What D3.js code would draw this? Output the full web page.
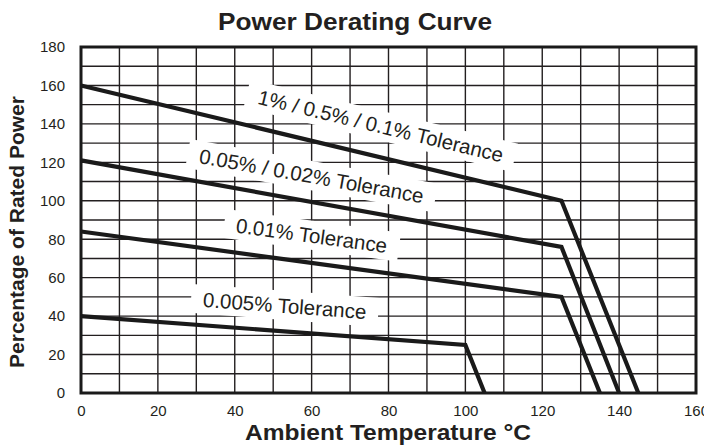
<!DOCTYPE html>
<html>
<head>
<meta charset="utf-8">
<script src="https://cdn.jsdelivr.net/npm/d3@7"></script>
<style>
  body { margin: 0; background: #fff; }
  text { font-family: "Liberation Sans", Arial, Helvetica, sans-serif; fill: #231f20; }
</style>
</head>
<body>
<svg id="chart" width="704" height="445"></svg>
<script>
// Curve data (temperature °C, % of rated power)
const temps1 = [0, 125, 145];
const power1 = [160, 100, 0];
const temps2 = [0, 125, 140];
const power2 = [121, 76, 0];
const temps3 = [0, 125, 135];
const power3 = [84, 50, 0];
const temps4 = [0, 100, 105];
const power4 = [40, 25, 0];

const seriesNames = [
    '1% / 0.5% / 0.1% Tolerance',
    '0.05% / 0.02% Tolerance',
    '0.01% Tolerance',
    '0.005% Tolerance'
];
// where each curve label sits, in data units
const labelTemps = [78, 60, 60, 53];
const labelPowers = [139, 113, 82, 45.5];

const xTicks = [0, 20, 40, 60, 80, 100, 120, 140, 160];
const yTicks = [0, 20, 40, 60, 80, 100, 120, 140, 160, 180];

const series = [
    { t: temps1, p: power1 },
    { t: temps2, p: power2 },
    { t: temps3, p: power3 },
    { t: temps4, p: power4 }
];

// Dimensions and margins
const margin = { top: 47, right: 8, bottom: 52, left: 81 };
const width = 704 - margin.left - margin.right;
const height = 445 - margin.top - margin.bottom;

const svg = d3.select('#chart');
const g = svg.append('g')
    .attr('transform', `translate(${margin.left},${margin.top})`);

const x = d3.scaleLinear().domain([0, 160]).range([0, width]);
const y = d3.scaleLinear().domain([0, 180]).range([height, 0]);

// Grid every 10 units
g.append('g')
    .selectAll('line')
    .data(d3.range(10, 160, 10))
    .enter()
    .append('line')
    .attr('x1', d => x(d)).attr('x2', d => x(d))
    .attr('y1', 0).attr('y2', height)
    .attr('stroke', '#231f20')
    .attr('stroke-width', 1.4);

g.append('g')
    .selectAll('line')
    .data(d3.range(10, 180, 10))
    .enter()
    .append('line')
    .attr('x1', 0).attr('x2', width)
    .attr('y1', d => y(d)).attr('y2', d => y(d))
    .attr('stroke', '#231f20')
    .attr('stroke-width', 1.4);

// Axes (labels only)
const xAxis = g.append('g')
    .attr('transform', `translate(0,${height})`)
    .call(d3.axisBottom(x).tickValues(xTicks).tickSize(0).tickPadding(12));
const yAxis = g.append('g')
    .call(d3.axisLeft(y).tickValues(yTicks).tickSize(0).tickPadding(16));
[xAxis, yAxis].forEach(a => {
    a.select('.domain').remove();
    a.selectAll('text')
        .style('font-size', '15px')
        .style('font-family', '"Liberation Sans", Arial, sans-serif')
        .attr('fill', '#231f20');
});

// Curve labels with white boxes
const slopeAngle = s => Math.atan2(y(s.p[1]) - y(s.p[0]), x(s.t[1]) - x(s.t[0])) * 180 / Math.PI;

series.forEach((s, i) => {
    const lg = g.append('g')
        .attr('transform', `translate(${x(labelTemps[i])},${y(labelPowers[i])}) rotate(${slopeAngle(s)})`);
    const rect = lg.append('rect').attr('fill', '#fff');
    const txt = lg.append('text')
        .attr('text-anchor', 'middle')
        .attr('dy', '0.36em')
        .style('font-size', '20.5px')
        .text(seriesNames[i]);
    const bb = txt.node().getBBox();
    rect.attr('x', bb.x - 12).attr('y', bb.y - 3)
        .attr('width', bb.width + 24).attr('height', bb.height + 6);
});

// Curves
const line = d3.line().x(d => x(d[0])).y(d => y(d[1]));
g.selectAll('.curve')
    .data(series)
    .enter()
    .append('path')
    .attr('class', 'curve')
    .attr('d', s => line(s.t.map((t, k) => [t, s.p[k]])))
    .attr('fill', 'none')
    .attr('stroke', '#1a1a1a')
    .attr('stroke-width', 4.2)
    .attr('stroke-linejoin', 'miter');

// Border
g.append('rect')
    .attr('width', width).attr('height', height)
    .attr('fill', 'none')
    .attr('stroke', '#1a1a1a')
    .attr('stroke-width', 3);

// Titles
svg.append('text')
    .attr('x', 355).attr('y', 30)
    .attr('text-anchor', 'middle')
    .style('font-size', '24px').style('font-weight', 'bold')
    .attr('textLength', 274).attr('lengthAdjust', 'spacingAndGlyphs')
    .text('Power Derating Curve');

svg.append('text')
    .attr('x', 388).attr('y', 440)
    .attr('text-anchor', 'middle')
    .style('font-size', '22px').style('font-weight', 'bold')
    .attr('textLength', 286).attr('lengthAdjust', 'spacingAndGlyphs')
    .text('Ambient Temperature °C');

svg.append('text')
    .attr('transform', 'translate(24,232) rotate(-90)')
    .attr('text-anchor', 'middle')
    .style('font-size', '21px').style('font-weight', 'bold')
    .text('Percentage of Rated Power');
</script>
</body>
</html>
